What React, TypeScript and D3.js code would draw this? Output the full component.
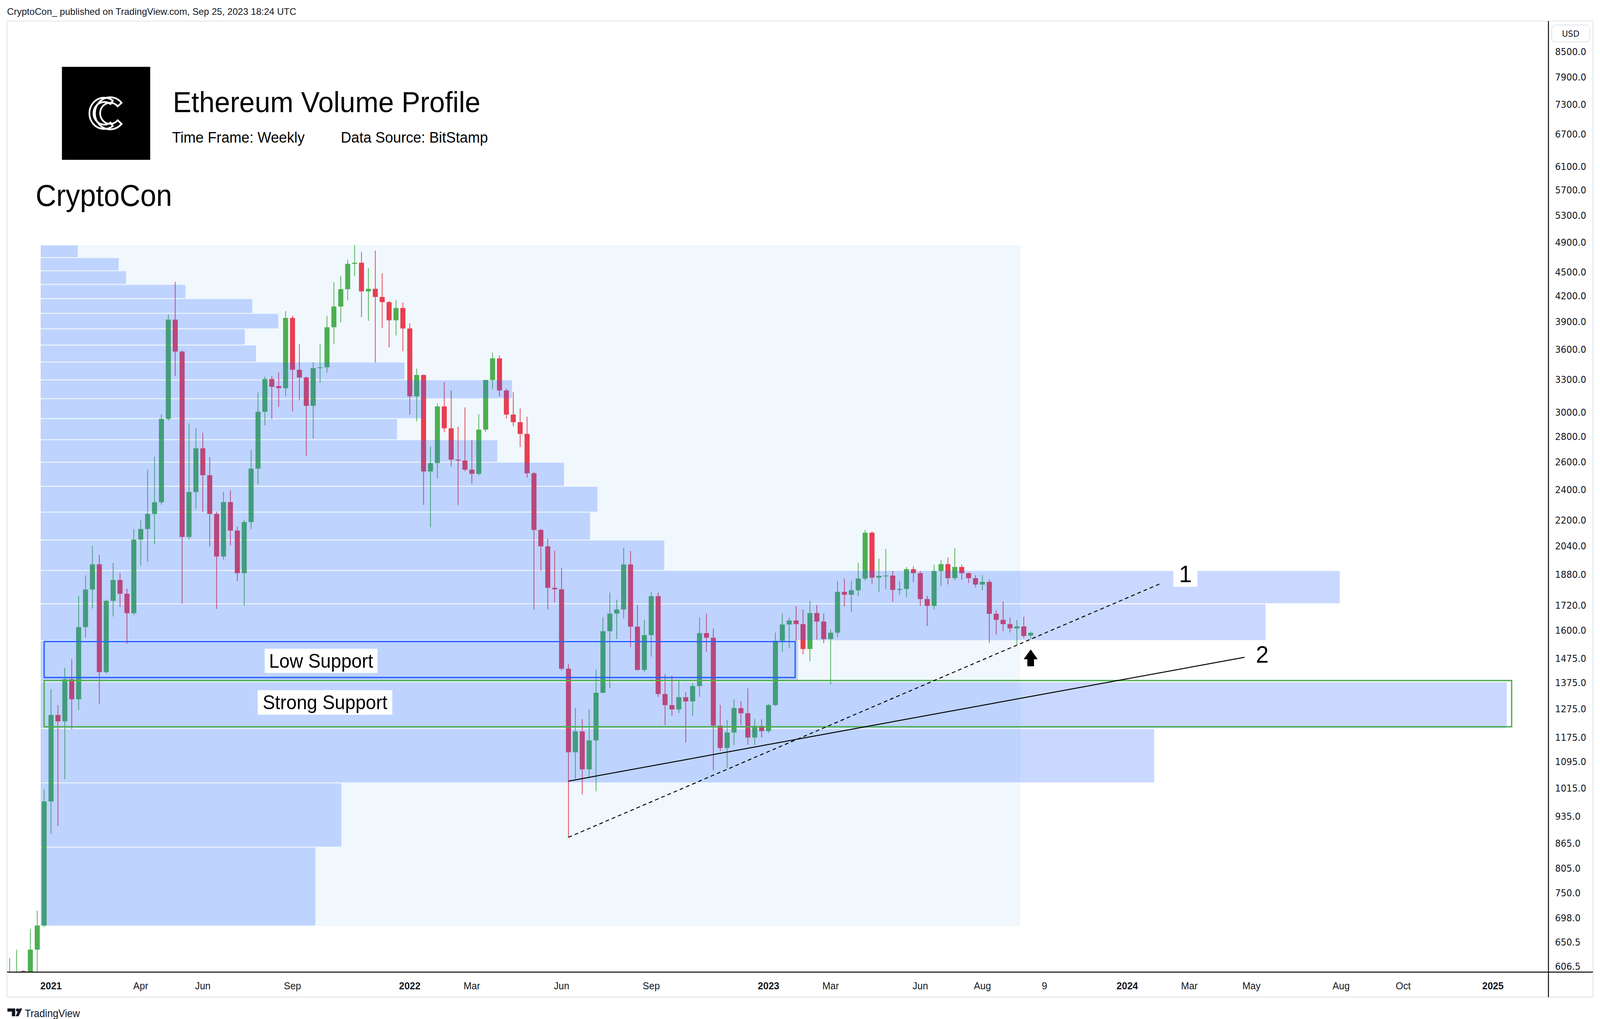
import * as React from 'react';
import * as d3 from 'd3';

const SANS = '"Liberation Sans", Arial, sans-serif';
const AXIS_FONT = '"DejaVu Sans", sans-serif';
const UP = '#4caf50';
const DOWN = '#e83e50';

// weekly ETH/USD (BitStamp), first bar = week of 2020-11-23
const firstWeek = '2020-11-23';
const lastWeek = '2023-09-25';

const opens = [558, 575, 599, 565, 637, 683,
  977, 1254, 1231, 1390, 1312, 1616, 1801, 1937, 1419, 1743,
  1851, 1779, 1682, 2080, 2145, 2240, 2317, 2947, 3924, 3579,
  2096, 2386, 2707, 2505, 2240, 1981, 2318, 2135, 1888, 2188,
  2553, 3008, 3306, 3240, 3220, 3944, 3396, 3321, 3060, 3412,
  3420, 3839, 4076, 4285, 4610, 4625, 4258, 4290, 4190, 4128,
  3917, 4059, 3826, 3145, 3345, 2532, 2594, 3055, 2868, 2620,
  2613, 2545, 2515, 2857, 3297, 3509, 3199, 2984, 2919, 2822,
  2519, 2139, 2040, 1810, 1802, 1433, 1126, 1196, 1072, 1165,
  1337, 1597, 1680, 1700, 1936, 1618, 1428, 1579, 1767, 1332,
  1290, 1274, 1320, 1304, 1363, 1588, 1567, 1216, 1140, 1192,
  1279, 1260, 1175, 1215, 1197, 1290, 1554, 1628, 1647, 1630,
  1517, 1683, 1642, 1561, 1590, 1789, 1774, 1797, 1859, 2122,
  1864, 1871, 1875, 1799, 1804, 1910, 1888, 1752, 1718, 1900,
  1938, 1861, 1922, 1888, 1861, 1827, 1841, 1679, 1650, 1630,
  1610, 1619, 1577];

const highs = [622, 637, 600, 676, 713, 1012,
  1351, 1290, 1437, 1473, 1768, 1876, 2042, 1990, 1750, 1945,
  1890, 1805, 2145, 2200, 2545, 2641, 2986, 3981, 4377, 3590,
  2909, 2870, 2832, 2639, 2255, 2386, 2398, 2160, 2200, 2695,
  3181, 3330, 3336, 3370, 4022, 3970, 3655, 3330, 3471, 3655,
  3967, 4372, 4456, 4668, 4868, 4774, 4552, 4790, 4487, 4140,
  4153, 4124, 3884, 3407, 3350, 2722, 3080, 3277, 3199, 2882,
  3046, 2773, 2987, 3300, 3567, 3540, 3215, 3182, 3037, 2966,
  2530, 2145, 2084, 2015, 1917, 1453, 1280, 1239, 1275, 1429,
  1663, 1785, 1749, 2032, 2013, 1722, 1650, 1789, 1785, 1410,
  1405, 1388, 1340, 1374, 1662, 1680, 1609, 1291, 1236, 1312,
  1305, 1354, 1239, 1238, 1295, 1591, 1680, 1662, 1717, 1700,
  1742, 1722, 1680, 1605, 1846, 1859, 1846, 1945, 2140, 2130,
  1969, 2025, 1900, 1846, 1921, 1926, 1900, 1768, 1936, 1961,
  1975, 2029, 1935, 1892, 1877, 1876, 1854, 1696, 1739, 1661,
  1649, 1665, 1595];

const lows = [480, 540, 530, 565, 560, 680,
  890, 910, 1042, 1204, 1272, 1567, 1705, 1294, 1414, 1666,
  1712, 1540, 1673, 1928, 1950, 2052, 2300, 2930, 3336, 1728,
  2080, 2271, 2253, 2040, 1703, 1963, 2046, 1845, 1720, 2145,
  2441, 2893, 2948, 3050, 3145, 3011, 3111, 2650, 2784, 3270,
  3369, 3655, 3893, 4149, 4450, 3954, 3911, 3469, 3828, 3622,
  3750, 3581, 2983, 2927, 2300, 2155, 2481, 2835, 2570, 2298,
  2535, 2445, 2505, 2838, 3213, 3145, 2950, 2884, 2717, 2487,
  1700, 1901, 1701, 1736, 1425, 880, 1043, 997, 1048, 1006,
  1335, 1355, 1561, 1655, 1525, 1425, 1420, 1484, 1321, 1218,
  1250, 1261, 1158, 1250, 1321, 1505, 1069, 1130, 1075, 1150,
  1218, 1151, 1150, 1175, 1190, 1287, 1505, 1519, 1553, 1494,
  1464, 1559, 1543, 1370, 1570, 1715, 1687, 1766, 1849, 1831,
  1789, 1804, 1738, 1774, 1762, 1839, 1718, 1621, 1700, 1820,
  1828, 1849, 1852, 1835, 1812, 1797, 1544, 1581, 1597, 1591,
  1535, 1565, 1561];

const closes = [575, 597, 565, 637, 683, 977,
  1254, 1231, 1390, 1312, 1616, 1801, 1937, 1419, 1743, 1851,
  1779, 1682, 2080, 2145, 2240, 2317, 2947, 3924, 3579, 2096,
  2386, 2707, 2505, 2240, 1981, 2318, 2135, 1888, 2188, 2553,
  3008, 3306, 3233, 3220, 3944, 3396, 3321, 3060, 3412, 3420,
  3839, 4076, 4285, 4610, 4625, 4258, 4290, 4190, 4128, 3917,
  4059, 3826, 3145, 3345, 2532, 2594, 3055, 2868, 2620, 2613,
  2545, 2515, 2857, 3297, 3509, 3199, 2984, 2919, 2822, 2519,
  2139, 2040, 1810, 1802, 1433, 1126, 1196, 1072, 1165, 1337,
  1597, 1680, 1700, 1936, 1618, 1428, 1579, 1767, 1332, 1290,
  1274, 1320, 1304, 1363, 1588, 1567, 1216, 1140, 1192, 1279,
  1260, 1175, 1215, 1197, 1290, 1554, 1628, 1647, 1630, 1517,
  1683, 1642, 1561, 1590, 1789, 1774, 1797, 1859, 2122, 1864,
  1873, 1875, 1799, 1804, 1910, 1888, 1752, 1718, 1900, 1938,
  1861, 1922, 1888, 1861, 1827, 1841, 1679, 1650, 1630, 1610,
  1619, 1575, 1589];

// fixed range volume profile, 24 rows from bottom to top
const profileFrom = '2020-12-28';
const profileTo = '2023-09-11';
const profileLow = 682;
const profileHigh = 4868;
const profileVolumes = [74, 81, 300, 395, 204, 330, 350, 168, 148, 150, 141, 123,
  96, 103, 127, 98, 58, 55, 64, 57, 39, 23, 21, 10];

const priceTicks = [8500, 7900, 7300, 6700, 6100, 5700, 5300, 4900, 4500, 4200, 3900,
  3600, 3300, 3000, 2800, 2600, 2400, 2200, 2040, 1880, 1720, 1600, 1475, 1375, 1275,
  1175, 1095, 1015, 935, 865, 805, 750, 698, 650.5, 606.5];

const timeTickDates = ['2021-01-04', '2021-04-05', '2021-06-07', '2021-09-06', '2022-01-03',
  '2022-03-07', '2022-06-06', '2022-09-05', '2023-01-02', '2023-03-06', '2023-06-05',
  '2023-08-07', '2023-10-09', '2024-01-01', '2024-03-04', '2024-05-06', '2024-08-05',
  '2024-10-07', '2025-01-06'];
const timeTickLabels = ['2021', 'Apr', 'Jun', 'Sep', '2022', 'Mar', 'Jun', 'Sep', '2023',
  'Mar', 'Jun', 'Aug', '9', '2024', 'Mar', 'May', 'Aug', 'Oct', '2025'];

const zones = [
  { name: 'Low Support', top: 1550, bottom: 1397, from: '2020-12-28', to: '2023-01-29',
    color: '#2962ff', labelDate: '2021-10-05', labelPrice: 1466, boxW: 304, boxH: 62 },
  { name: 'Strong Support', top: 1385, bottom: 1212, from: '2020-12-28', to: '2025-01-25',
    color: '#4caf50', labelDate: '2021-10-09', labelPrice: 1300, boxW: 363, boxH: 63 },
];

const trendLines = [
  { fromDate: '2022-06-13', fromPrice: 881, toDate: '2024-02-05', toPrice: 1835, dashed: true },
  { fromDate: '2022-06-13', fromPrice: 1036, toDate: '2024-04-29', toPrice: 1481, dashed: false },
];

const notes = [
  { text: '1', date: '2024-02-29', price: 1884, boxW: 65, boxH: 66 },
  { text: '2', date: '2024-05-17', price: 1494, boxW: 0, boxH: 0 },
];

const arrowDate = '2023-09-25';
const arrowPrice = 1515;

const parse = d3.utcParse('%Y-%m-%d');

const App: React.FC = () => {
  // drawing is laid out on the reference's 4314x2608 grid and stretched to the viewport
  const W = 4314;
  const H = 2608;
  const chartL = 19, chartT = 54, axisX = 4175, axisY = 2488, paneR = 4295, paneB = 2552;

  const weeks = d3.utcMonday.range(parse(firstWeek)!, d3.utcDay.offset(parse(lastWeek)!, 1));
  const x = d3.scaleUtc()
    .domain([parse('2020-12-28')!, parse(lastWeek)!])
    .range([119, 2779]);
  const y = d3.scaleLog().domain([606.5, 8500]).range([2474, 132.7]);
  const step = x(parse('2021-01-04')!) - x(parse('2020-12-28')!);
  const bodyW = step * 0.73;

  const rowSize = (profileHigh - profileLow) / profileVolumes.length;
  const vx = d3.scaleLinear().domain([0, d3.max(profileVolumes)!]).range([0, 3953]);
  const profX0 = x(parse(profileFrom)!) - step / 2;
  const profX1 = x(parse(profileTo)!) + step / 2;

  const logoArc = (cx: number, r0: number, r1: number, gap: number) => {
    const a = d3.arc()({
      innerRadius: r0, outerRadius: r1,
      startAngle: Math.PI / 2 + gap, endAngle: Math.PI * 2.5 - gap,
    } as any) as string;
    return <path d={a} transform={`translate(${cx},290)`} fill="none" stroke="#fff" strokeWidth={4.5} />;
  };

  return (
    <svg viewBox={`0 0 ${W} ${H}`} preserveAspectRatio="none"
      style={{ position: 'fixed', left: 0, top: 0, width: '100vw', height: '100vh', display: 'block', background: '#fff' }}
      fontFamily={SANS}>
      <defs>
        <clipPath id="pane">
          <rect x={chartL} y={chartT} width={axisX - chartL} height={axisY - chartT} />
        </clipPath>
      </defs>
      <rect width={W} height={H} fill="#fff" />

      <text x={19} y={38} fontSize={23} fill="#131722" textLength={780} lengthAdjust="spacingAndGlyphs">
        CryptoCon_ published on TradingView.com, Sep 25, 2023 18:24 UTC
      </text>

      {/* pane frame */}
      <rect x={chartL} y={chartT} width={paneR - chartL} height={paneB - chartT} fill="none" stroke="#e0e3eb" strokeWidth={2} />

      <g clipPath="url(#pane)">
        {/* profile range background */}
        <rect x={profX0} y={y(profileHigh)} width={profX1 - profX0} height={y(profileLow) - y(profileHigh)}
          fill="#2196f3" fillOpacity={0.065} />

        {/* candles */}
        {weeks.map((d, i) => {
          const o = opens[i], h = highs[i], l = lows[i], c = closes[i];
          const col = c >= o ? UP : DOWN;
          const cx = x(d);
          const top = y(Math.max(o, c));
          const bh = Math.max(2, y(Math.min(o, c)) - top);
          return (
            <g key={i}>
              <rect x={cx - 1} y={y(h)} width={2} height={y(l) - y(h)} fill={col} />
              <rect x={cx - bodyW / 2} y={top} width={bodyW} height={bh} fill={col} />
            </g>
          );
        })}

        {/* volume profile rows */}
        {profileVolumes.map((v, i) => {
          const lo = profileLow + i * rowSize;
          const hi = lo + rowSize;
          return (
            <rect key={i} x={profX0} y={y(hi) + 1.2} width={vx(v)} height={y(lo) - y(hi) - 2.4}
              fill="#2962ff" fillOpacity={0.25} />
          );
        })}

        {/* support zones */}
        {zones.map((z) => {
          const x0 = x(parse(z.from)!);
          const x1 = x(parse(z.to)!);
          const lx = x(parse(z.labelDate)!);
          const ly = y(z.labelPrice);
          return (
            <g key={z.name}>
              <rect x={x0} y={y(z.top)} width={x1 - x0} height={y(z.bottom) - y(z.top)}
                fill="none" stroke={z.color} strokeWidth={3.5} />
              <rect x={lx - z.boxW / 2} y={ly - z.boxH / 2} width={z.boxW} height={z.boxH} fill="#fff" />
              <text x={lx} y={ly} fontSize={50} textAnchor="middle" dominantBaseline="central" fill="#000">
                {z.name}
              </text>
            </g>
          );
        })}

        {/* trend lines */}
        {trendLines.map((t, i) => (
          <line key={i} x1={x(parse(t.fromDate)!)} y1={y(t.fromPrice)} x2={x(parse(t.toDate)!)} y2={y(t.toPrice)}
            stroke="#000" strokeWidth={2.5} strokeDasharray={t.dashed ? '10 8' : undefined} />
        ))}

        {notes.map((n) => {
          const nx = x(parse(n.date)!);
          const ny = y(n.price);
          return (
            <g key={n.text}>
              {n.boxW > 0 && <rect x={nx - n.boxW / 2} y={ny - n.boxH / 2} width={n.boxW} height={n.boxH} fill="#fff" />}
              <text x={nx} y={ny} fontSize={62} textAnchor="middle" dominantBaseline="central" fill="#000">{n.text}</text>
            </g>
          );
        })}

        {/* arrow */}
        {(() => {
          const ax = x(parse(arrowDate)!);
          const ay = y(arrowPrice);
          const p = `M${ax},${ay} L${ax + 19},${ay + 25} L${ax + 9},${ay + 25} L${ax + 9},${ay + 43}
            L${ax - 9},${ay + 43} L${ax - 9},${ay + 25} L${ax - 19},${ay + 25} Z`;
          return <path d={p} fill="#000" />;
        })()}
      </g>

      {/* axes */}
      <line x1={axisX} y1={chartT} x2={axisX} y2={paneB} stroke="#000" strokeWidth={2.5} />
      <line x1={chartL} y1={axisY} x2={paneR} y2={axisY} stroke="#000" strokeWidth={2.5} />

      <rect x={4184} y={64} width={102} height={43} rx={8} fill="#fff" stroke="#e0e3eb" strokeWidth={2} />
      <text x={4235} y={86} fontSize={22} textAnchor="middle" dominantBaseline="central" fill="#131722"
        fontFamily={AXIS_FONT}>USD</text>

      {priceTicks.map((p) => (
        <text key={p} x={4193} y={y(p)} fontSize={24} dominantBaseline="central" fill="#131722"
          fontFamily={AXIS_FONT}>{p.toFixed(1)}</text>
      ))}

      {timeTickDates.map((d, i) => {
        const lbl = timeTickLabels[i];
        const bold = /^\d{4}$/.test(lbl);
        return (
          <text key={d} x={x(parse(d)!)} y={2532} fontSize={26} textAnchor="middle" fill="#131722"
            fontWeight={bold ? 'bold' : 'normal'}>{lbl}</text>
        );
      })}

      {/* header block */}
      <rect x={167} y={171} width={238} height={238} fill="#000" />
      {logoArc(281, 29, 40, 0.95)}
      {logoArc(297, 27, 41, 0.72)}
      <text x={466} y={287} fontSize={75} fill="#000">Ethereum Volume Profile</text>
      <text x={464} y={365} fontSize={39} fill="#000">Time Frame: Weekly</text>
      <text x={919} y={365} fontSize={39} fill="#000">Data Source: BitStamp</text>
      <text x={96} y={527} fontSize={77} fill="#000">CryptoCon</text>

      {/* footer */}
      <g fill="#131722">
        <rect x={20} y={2581} width={21} height={8} />
        <rect x={32} y={2581} width={9} height={20} />
        <circle cx={47} cy={2585} r={4} />
        <path d="M52,2581 L60,2581 L50,2601 L42,2601 Z" />
      </g>
      <text x={67} y={2603} fontSize={27} fill="#131722">TradingView</text>
    </svg>
  );
};

export default App;
